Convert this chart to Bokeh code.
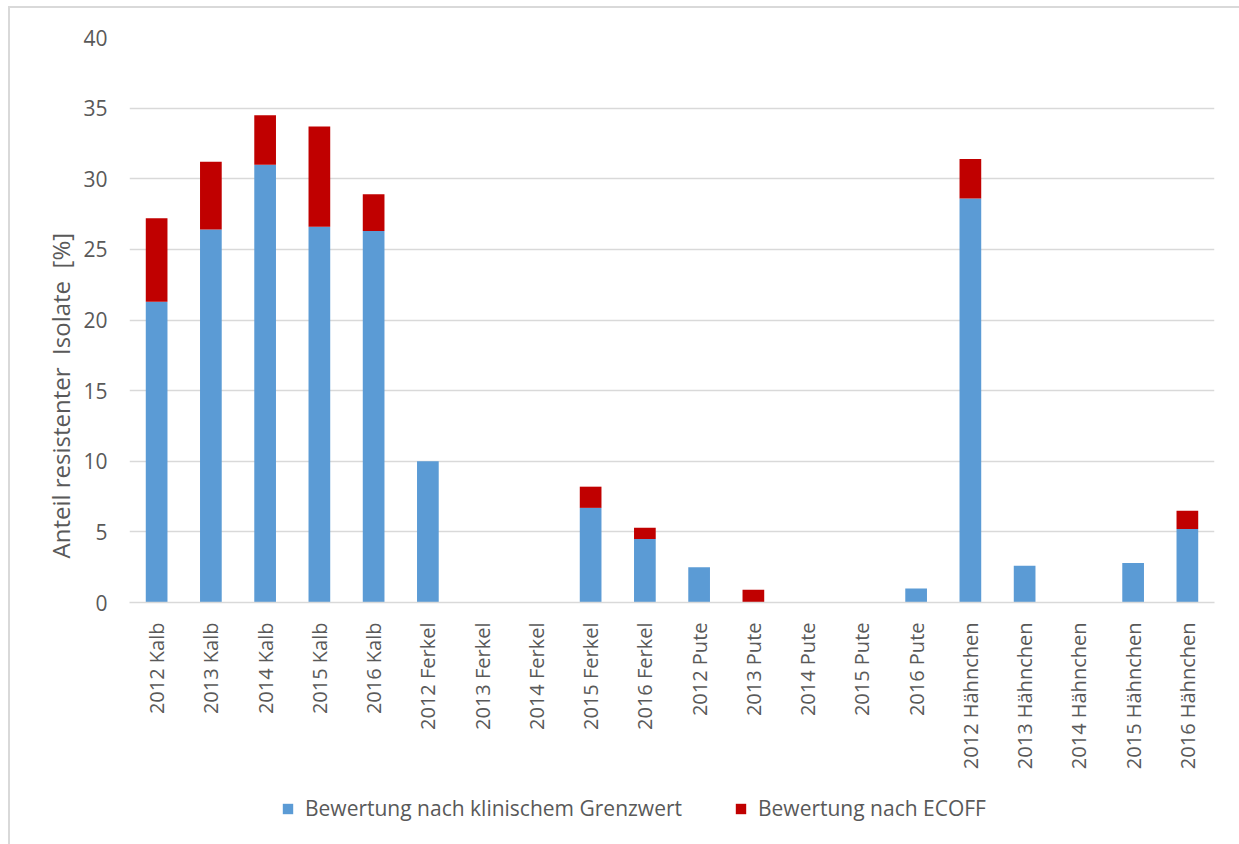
from bokeh.plotting import figure
from bokeh.layouts import column
from bokeh.models import FactorRange, Range1d, Title, Legend, LegendItem, ColumnDataSource
from bokeh.embed import file_html
from bokeh.resources import INLINE
import math

categories = ["2012 Kalb", "2013 Kalb", "2014 Kalb", "2015 Kalb", "2016 Kalb",
              "2012 Ferkel", "2013 Ferkel", "2014 Ferkel", "2015 Ferkel", "2016 Ferkel",
              "2012 Pute", "2013 Pute", "2014 Pute", "2015 Pute", "2016 Pute",
              "2012 Hähnchen", "2013 Hähnchen", "2014 Hähnchen", "2015 Hähnchen", "2016 Hähnchen"]
klinisch = [21.3, 26.4, 31.0, 26.6, 26.3,
            10.0, 0.0, 0.0, 6.7, 4.5,
            2.5, 0.0, 0.0, 0.0, 1.0,
            28.6, 2.6, 0.0, 2.8, 5.2]
ecoff = [5.9, 4.8, 3.5, 7.1, 2.6,
         0.0, 0.0, 0.0, 1.5, 0.8,
         0.0, 0.9, 0.0, 0.0, 0.0,
         2.8, 0.0, 0.0, 0.0, 1.3]
series_names = ["Bewertung nach klinischem Grenzwert", "Bewertung nach ECOFF"]
y_ticks = [0, 5, 10, 15, 20, 25, 30, 35, 40]
y_title = "Anteil resistenter\u00a0 Isolate\u00a0 [%]"

FONT = "Open Sans"
TXT = "#595959"
GRID = "#d9d9d9"
BLUE = "#5b9bd5"
RED = "#c00000"
COLORS = [BLUE, RED]

src = ColumnDataSource(dict(cat=categories, klinisch=klinisch, ecoff=ecoff))
x_range = FactorRange(factors=categories, range_padding=0)

p = figure(x_range=x_range, y_range=Range1d(0, 40), width=1229, height=772,
           output_backend="svg", toolbar_location=None,
           min_border_left=119, min_border_right=25, min_border_top=29, min_border_bottom=178)
p.outline_line_color = None

rs = p.vbar_stack(["klinisch", "ecoff"], x="cat", width=0.4, color=COLORS,
                  line_color=None, source=src)

p.yaxis.ticker = y_ticks
p.yaxis.axis_line_color = None
p.yaxis.major_tick_line_color = None
p.yaxis.minor_tick_line_color = None
p.yaxis.major_label_text_font = FONT
p.yaxis.major_label_text_font_size = "21px"
p.yaxis.major_label_text_color = TXT
p.yaxis.major_label_standoff = 16

p.xaxis.axis_line_color = GRID
p.xaxis.axis_line_width = 1.5
p.xaxis.major_tick_line_color = None
p.xaxis.minor_tick_line_color = None
p.xaxis.major_label_orientation = math.pi / 2
p.xaxis.major_label_text_font = FONT
p.xaxis.major_label_text_font_size = "20px"
p.xaxis.major_label_text_color = TXT
p.xaxis.major_label_standoff = 14
p.xgrid.grid_line_color = None
p.ygrid.grid_line_color = GRID
p.ygrid.grid_line_width = 1.5

p.add_layout(Title(text=y_title, align="left", offset=44, standoff=7,
                   text_font=FONT, text_font_size="24px", text_color=TXT,
                   text_font_style="normal"), "left")

# legend strip below the chart (renderers hidden, only their legend swatches shown)
p2 = figure(x_range=x_range, y_range=Range1d(0, 40), width=1229, height=64,
            output_backend="svg", toolbar_location=None,
            x_axis_location=None, y_axis_location=None,
            min_border_left=0, min_border_right=0, min_border_top=0, min_border_bottom=0)
p2.outline_line_color = None
p2.grid.grid_line_color = None
rs2 = p2.vbar_stack(["klinisch", "ecoff"], x="cat", width=0.4, color=COLORS,
                    line_color=None, source=src)
for r in rs2:
    r.visible = False

legend = Legend(items=[LegendItem(label=series_names[0], renderers=[rs2[0]]),
                       LegendItem(label=series_names[1], renderers=[rs2[1]])],
                orientation="horizontal", location=(152, 22),
                glyph_width=13, glyph_height=13, label_standoff=11, spacing=52,
                padding=0, margin=0, border_line_color=None, background_fill_alpha=0,
                inactive_fill_alpha=0,
                label_text_font=FONT, label_text_font_size="21px", label_text_color=TXT)
p2.add_layout(legend, "center")

layout = column(p, p2, spacing=0)
layout.styles = {"margin-left": "8px", "margin-top": "6px",
                 "border-left": "2px solid #d9d9d9", "border-top": "2px solid #d9d9d9"}

open("out.html", "w").write(file_html(layout, INLINE))
